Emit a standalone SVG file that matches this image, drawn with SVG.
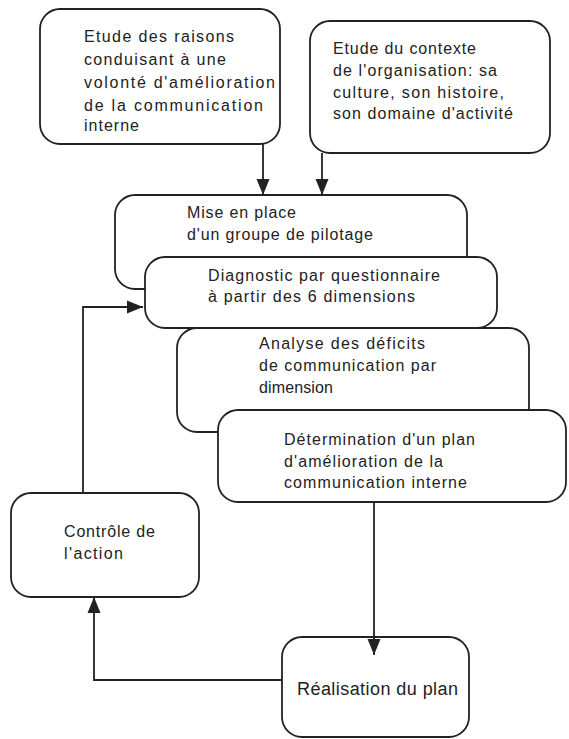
<svg xmlns="http://www.w3.org/2000/svg" width="569" height="739" viewBox="0 0 569 739">
<style>
.box{fill:#fff;stroke:#222;stroke-width:1.8}
.t{font-family:"Liberation Sans",Arial,sans-serif;font-size:16px;fill:#222}
.t2{font-family:"Liberation Sans",Arial,sans-serif;font-size:18px;fill:#222}
.c{fill:none;stroke:#222;stroke-width:1.8}
</style>
<defs>
<marker id="ah" markerUnits="userSpaceOnUse" markerWidth="17" markerHeight="14" refX="16" refY="7" orient="auto">
<path d="M0,0.5 L16,7 L0,13.5 z" fill="#222"/>
</marker>
</defs>
<rect width="569" height="739" fill="#fff"/>
<g id="n1">
<rect class="box" x="40" y="9" width="240" height="135" rx="20"/>
<text class="t" x="84" y="42" textLength="150" lengthAdjust="spacing">Etude des raisons</text>
<text class="t" x="84" y="65" textLength="142" lengthAdjust="spacing">conduisant à une</text>
<text class="t" x="84" y="88" textLength="191" lengthAdjust="spacing">volonté d'amélioration</text>
<text class="t" x="84" y="110.5" textLength="179" lengthAdjust="spacing">de la communication</text>
<text class="t" x="84" y="131" textLength="55" lengthAdjust="spacing">interne</text>
</g>
<g id="n2">
<rect class="box" x="310" y="21" width="240" height="132" rx="20"/>
<text class="t" x="333" y="54" textLength="143" lengthAdjust="spacing">Etude du contexte</text>
<text class="t" x="333" y="76" textLength="164" lengthAdjust="spacing">de l'organisation: sa</text>
<text class="t" x="333" y="97.5" textLength="171" lengthAdjust="spacing">culture, son histoire,</text>
<text class="t" x="333" y="119" textLength="180" lengthAdjust="spacing">son domaine d'activité</text>
</g>
<g id="n3">
<rect class="box" x="115" y="195" width="352" height="94" rx="20"/>
<text class="t" x="187" y="218" textLength="109" lengthAdjust="spacing">Mise en place</text>
<text class="t" x="187" y="240" textLength="186" lengthAdjust="spacing">d'un groupe de pilotage</text>
</g>
<g id="n4">
<rect class="box" x="145" y="257" width="352" height="71" rx="20"/>
<text class="t" x="208" y="281" textLength="232" lengthAdjust="spacing">Diagnostic par questionnaire</text>
<text class="t" x="208" y="302" textLength="207" lengthAdjust="spacing">à partir des 6 dimensions</text>
</g>
<g id="n5">
<rect class="box" x="177" y="328" width="352" height="104" rx="20"/>
<text class="t" x="259" y="349" textLength="166" lengthAdjust="spacing">Analyse des déficits</text>
<text class="t" x="259" y="371" textLength="177" lengthAdjust="spacing">de communication par</text>
<text class="t" x="259" y="393" textLength="74" lengthAdjust="spacing">dimension</text>
</g>
<g id="n6">
<rect class="box" x="218" y="410" width="348" height="92" rx="20"/>
<text class="t" x="284" y="445" textLength="191" lengthAdjust="spacing">Détermination d'un plan</text>
<text class="t" x="284" y="467" textLength="159" lengthAdjust="spacing">d'amélioration de la</text>
<text class="t" x="284" y="488" textLength="183" lengthAdjust="spacing">communication interne</text>
</g>
<g id="n7">
<rect class="box" x="282" y="637" width="187" height="100" rx="20"/>
<text class="t2" x="297" y="695" textLength="161" lengthAdjust="spacing">Réalisation du plan</text>
</g>
<g id="n8">
<rect class="box" x="11" y="493" width="188" height="104" rx="20"/>
<text class="t" x="64" y="537" textLength="91" lengthAdjust="spacing">Contrôle de</text>
<text class="t" x="64" y="559" textLength="59" lengthAdjust="spacing">l'action</text>
</g>
<g id="connectors">
<path class="c" d="M263,144 V195" marker-end="url(#ah)"/>
<path class="c" d="M322,153 V195" marker-end="url(#ah)"/>
<path class="c" d="M83,493 V307 H143" marker-end="url(#ah)"/>
<path class="c" d="M374,502 V655" marker-end="url(#ah)"/>
<path class="c" d="M282,680 H94 V597" marker-end="url(#ah)"/>
</g>
</svg>
